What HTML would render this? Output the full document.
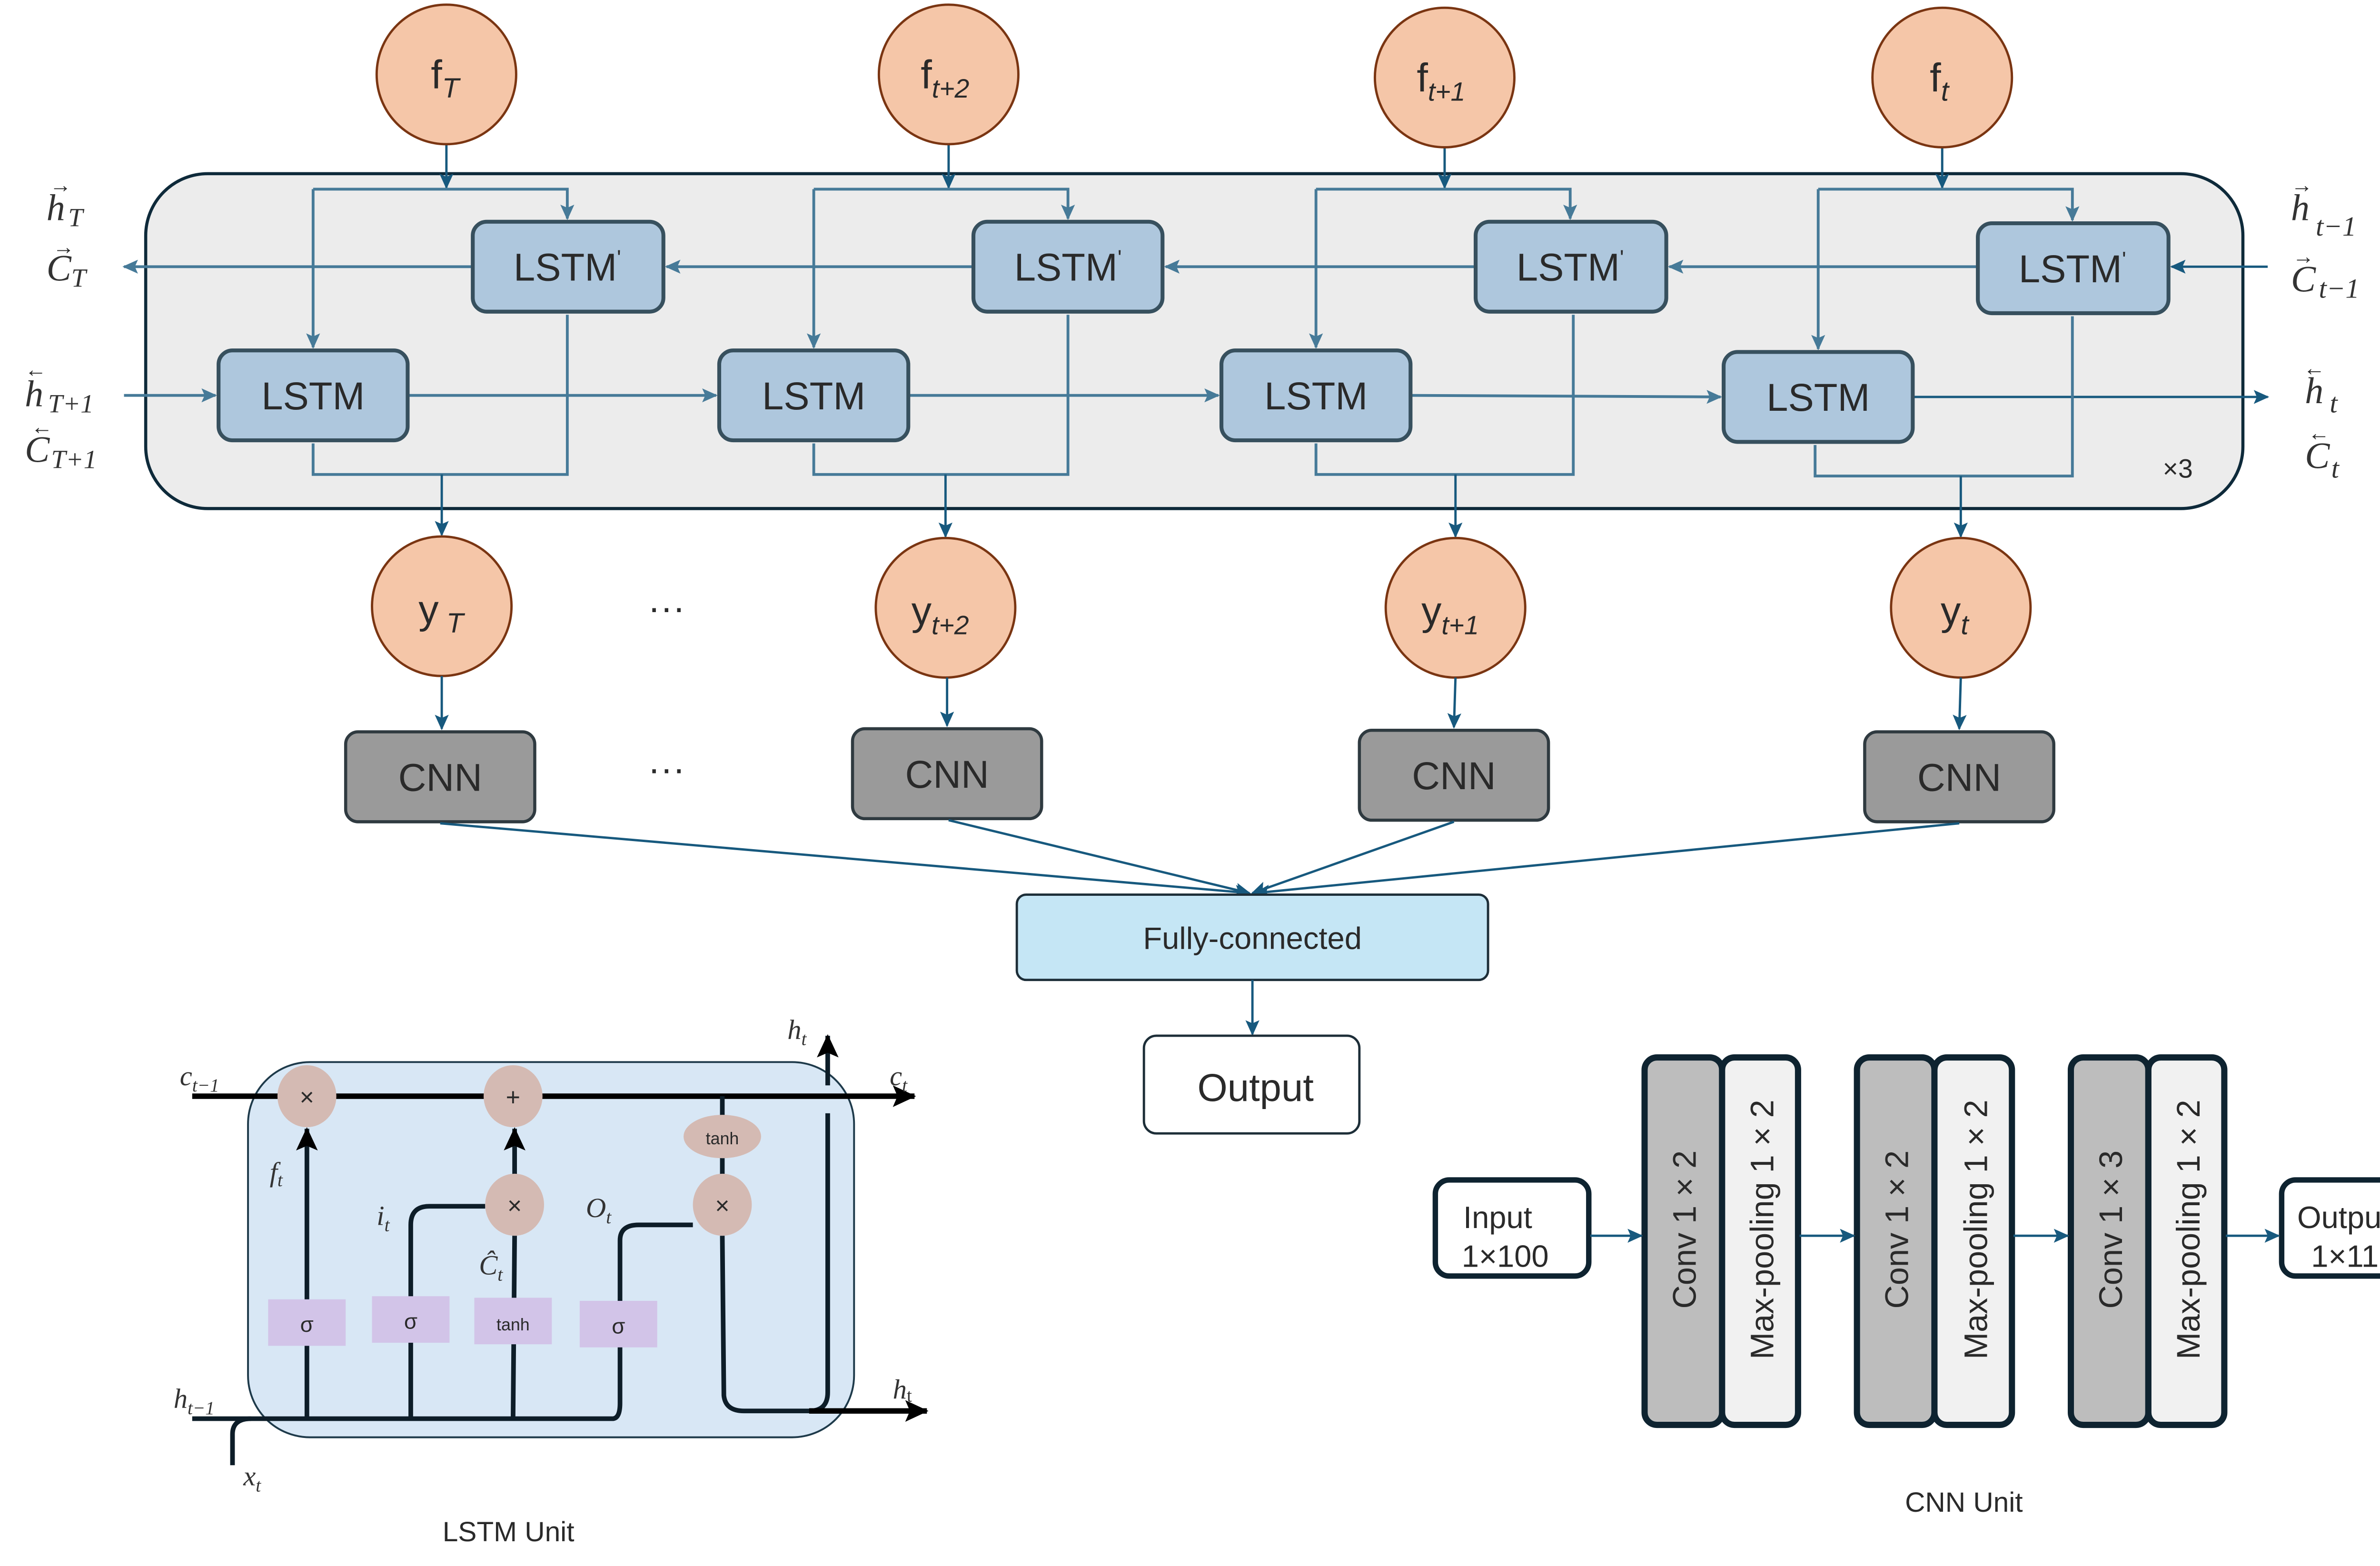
<!DOCTYPE html>
<html><head><meta charset="utf-8"><style>html,body{margin:0;padding:0;background:#fff;width:5106px;height:3290px;overflow:hidden}svg{display:block;position:absolute;left:0;top:0;width:5106px;height:3290px}</style></head>
<body>
<svg width="5106" height="3290" viewBox="0 0 1568 1010" preserveAspectRatio="none" xmlns="http://www.w3.org/2000/svg">
<defs>
<marker id="a" markerUnits="userSpaceOnUse" markerWidth="10" markerHeight="10" refX="9" refY="5" orient="auto"><path d="M0,0.5 L10,5 L0,9.5 L2,5 Z" fill="#467a98"/></marker>
<marker id="ad" markerUnits="userSpaceOnUse" markerWidth="10" markerHeight="10" refX="9" refY="5" orient="auto"><path d="M0,0.5 L10,5 L0,9.5 L2,5 Z" fill="#17597e"/></marker>
<marker id="ak" markerUnits="userSpaceOnUse" markerWidth="16" markerHeight="14" refX="14" refY="7" orient="auto"><path d="M0,0 L15,7 L0,14 L3,7 Z" fill="#000"/></marker>
</defs>
<style>
.c{fill:#f5c6a8;stroke:#7a3512;stroke-width:1.5}
.lb{fill:#aec7dd;stroke:#37505e;stroke-width:2.5}
.w{stroke:#467a98;stroke-width:1.8;fill:none}
.d{stroke:#17597e;stroke-width:1.5;fill:none}
.t{font-family:"Liberation Sans",sans-serif;fill:#2a2a2a}
.m{font-family:"Liberation Serif",serif;font-style:italic;fill:#333}
.k{stroke:#0d1d28;stroke-width:3;fill:none}
</style>

<rect x="94" y="112" width="1353" height="216" rx="40" fill="#ececec" stroke="#0e2a3a" stroke-width="2"/>
<text x="1405" y="308" class="t" font-size="17" text-anchor="middle">×3</text>

<text x="30" y="142" class="m" font-size="24">h</text><text x="44" y="146" class="m" font-size="17" font-style="normal">T</text>
<text x="32" y="124" class="t" font-size="14">→</text>
<text x="30" y="181" class="m" font-size="24">C</text><text x="46" y="185" class="m" font-size="17">T</text>
<text x="34" y="164" class="t" font-size="14">→</text>
<text x="16" y="262" class="m" font-size="24">h</text><text x="31" y="266" class="m" font-size="17">T+1</text>
<text x="16" y="243" class="t" font-size="14">←</text>
<text x="16" y="298" class="m" font-size="24">C</text><text x="33" y="302" class="m" font-size="17">T+1</text>
<text x="20" y="280" class="t" font-size="14">←</text>
<text x="1478" y="142" class="m" font-size="24">h</text><text x="1494" y="152" class="m" font-size="18" font-style="normal">t−1</text>
<text x="1478" y="124" class="t" font-size="14">→</text>
<text x="1478" y="188" class="m" font-size="24">C</text><text x="1496" y="192" class="m" font-size="18">t−1</text>
<text x="1479" y="170" class="t" font-size="14">→</text>
<text x="1487" y="260" class="m" font-size="24">h</text><text x="1503" y="266" class="m" font-size="18">t</text>
<text x="1486" y="242" class="t" font-size="14">←</text>
<text x="1487" y="302" class="m" font-size="24">C</text><text x="1504" y="308" class="m" font-size="18">t</text>
<text x="1489" y="284" class="t" font-size="14">←</text>

<line x1="1463" y1="172" x2="1401" y2="172" class="d" marker-end="url(#ad)"/>
<line x1="1276" y1="172" x2="1077" y2="172" class="w" marker-end="url(#a)"/>
<line x1="952" y1="172" x2="752" y2="172" class="w" marker-end="url(#a)"/>
<line x1="628" y1="172" x2="430" y2="172" class="w" marker-end="url(#a)"/>
<line x1="305" y1="172" x2="80" y2="172" class="w" marker-end="url(#a)"/>
<line x1="80" y1="255" x2="139" y2="255" class="w" marker-end="url(#a)"/>
<line x1="263" y1="255" x2="462" y2="255" class="w" marker-end="url(#a)"/>
<line x1="586" y1="255" x2="786" y2="255" class="w" marker-end="url(#a)"/>
<line x1="910" y1="255" x2="1110" y2="256" class="w" marker-end="url(#a)"/>
<line x1="1234" y1="256" x2="1463" y2="256" class="d" marker-end="url(#ad)"/>

<line x1="288" y1="93" x2="288" y2="121" class="d" marker-end="url(#ad)"/>
<polyline points="202,122 366,122 366,141" class="w" marker-end="url(#a)"/>
<line x1="202" y1="122" x2="202" y2="224" class="w" marker-end="url(#a)"/>
<polyline points="202,286 202,306 366,306 366,203" class="w"/>
<line x1="285" y1="306" x2="285" y2="345" class="d" marker-end="url(#ad)"/>
<line x1="612" y1="93" x2="612" y2="121" class="d" marker-end="url(#ad)"/>
<polyline points="525,122 689,122 689,141" class="w" marker-end="url(#a)"/>
<line x1="525" y1="122" x2="525" y2="224" class="w" marker-end="url(#a)"/>
<polyline points="525,286 525,306 689,306 689,203" class="w"/>
<line x1="610" y1="306" x2="610" y2="346" class="d" marker-end="url(#ad)"/>
<line x1="932" y1="95" x2="932" y2="121" class="d" marker-end="url(#ad)"/>
<polyline points="849,122 1013,122 1013,141" class="w" marker-end="url(#a)"/>
<line x1="849" y1="122" x2="849" y2="224" class="w" marker-end="url(#a)"/>
<polyline points="849,286 849,306 1015,306 1015,203" class="w"/>
<line x1="939" y1="306" x2="939" y2="346" class="d" marker-end="url(#ad)"/>
<line x1="1253" y1="95" x2="1253" y2="121" class="d" marker-end="url(#ad)"/>
<polyline points="1173,122 1337,122 1337,142" class="w" marker-end="url(#a)"/>
<line x1="1173" y1="122" x2="1173" y2="225" class="w" marker-end="url(#a)"/>
<polyline points="1171,287 1171,307 1337,307 1337,204" class="w"/>
<line x1="1265" y1="307" x2="1265" y2="346" class="d" marker-end="url(#ad)"/>

<rect x="305" y="143" width="123" height="58" rx="9" class="lb"/>
<rect x="628" y="143" width="122" height="58" rx="9" class="lb"/>
<rect x="952" y="143" width="123" height="58" rx="9" class="lb"/>
<rect x="1276" y="144" width="123" height="58" rx="9" class="lb"/>
<rect x="141" y="226" width="122" height="58" rx="9" class="lb"/>
<rect x="464" y="226" width="122" height="58" rx="9" class="lb"/>
<rect x="788" y="226" width="122" height="58" rx="9" class="lb"/>
<rect x="1112" y="227" width="122" height="58" rx="9" class="lb"/>
<g class="t" font-size="25" text-anchor="middle">
<text x="366" y="181">LSTM<tspan font-size="14" dy="-10">'</tspan></text>
<text x="689" y="181">LSTM<tspan font-size="14" dy="-10">'</tspan></text>
<text x="1013" y="181">LSTM<tspan font-size="14" dy="-10">'</tspan></text>
<text x="1337" y="182">LSTM<tspan font-size="14" dy="-10">'</tspan></text>
<text x="202" y="264">LSTM</text>
<text x="525" y="264">LSTM</text>
<text x="849" y="264">LSTM</text>
<text x="1173" y="265">LSTM</text>
</g>

<circle cx="288" cy="48" r="45" class="c"/>
<circle cx="612" cy="48" r="45" class="c"/>
<circle cx="932" cy="50" r="45" class="c"/>
<circle cx="1253" cy="50" r="45" class="c"/>
<g class="t" font-size="26" fill="#222">
<text x="278" y="57">f<tspan font-size="18" dy="6" font-style="italic">T</tspan></text>
<text x="594" y="57">f<tspan font-size="17" dy="6" font-style="italic">t+2</tspan></text>
<text x="914" y="59">f<tspan font-size="17" dy="6" font-style="italic">t+1</tspan></text>
<text x="1245" y="59">f<tspan font-size="18" dy="6" font-style="italic">t</tspan></text>
</g>
<circle cx="285" cy="391" r="45" class="c"/>
<circle cx="610" cy="392" r="45" class="c"/>
<circle cx="939" cy="392" r="45" class="c"/>
<circle cx="1265" cy="392" r="45" class="c"/>
<g class="t" font-size="26" fill="#222">
<text x="270" y="402">y<tspan font-size="18" dy="6" font-style="italic"> T</tspan></text>
<text x="588" y="403">y<tspan font-size="17" dy="6" font-style="italic">t+2</tspan></text>
<text x="917" y="403">y<tspan font-size="17" dy="6" font-style="italic">t+1</tspan></text>
<text x="1252" y="403">y<tspan font-size="18" dy="6" font-style="italic">t</tspan></text>
</g>
<text x="430" y="400" class="t" font-size="24" text-anchor="middle" fill="#111">···</text>
<text x="430" y="504" class="t" font-size="24" text-anchor="middle" fill="#111">···</text>

<line x1="285" y1="436" x2="285" y2="470" class="d" marker-end="url(#ad)"/>
<line x1="611" y1="437" x2="611" y2="468" class="d" marker-end="url(#ad)"/>
<line x1="939" y1="437" x2="938" y2="469" class="d" marker-end="url(#ad)"/>
<line x1="1265" y1="437" x2="1264" y2="470" class="d" marker-end="url(#ad)"/>

<g fill="#9a9a9a" stroke="#2f3a40" stroke-width="2">
<rect x="223" y="472" width="122" height="58" rx="8"/>
<rect x="550" y="470" width="122" height="58" rx="8"/>
<rect x="877" y="471" width="122" height="58" rx="8"/>
<rect x="1203" y="472" width="122" height="58" rx="8"/>
</g>
<g class="t" font-size="25" text-anchor="middle" fill="#111">
<text x="284" y="510">CNN</text><text x="611" y="508">CNN</text><text x="938" y="509">CNN</text><text x="1264" y="510">CNN</text>
</g>
<line x1="284" y1="531" x2="806" y2="576" class="d" marker-end="url(#ad)"/>
<line x1="612" y1="529" x2="806" y2="576" class="d" marker-end="url(#ad)"/>
<line x1="938" y1="530" x2="808" y2="576" class="d" marker-end="url(#ad)"/>
<line x1="1264" y1="531" x2="810" y2="576" class="d" marker-end="url(#ad)"/>
<rect x="656" y="577" width="304" height="55" rx="6" fill="#c5e6f5" stroke="#1d2e38" stroke-width="1.5"/>
<text x="808" y="612" class="t" font-size="20" text-anchor="middle" fill="#111">Fully-connected</text>
<line x1="808" y1="632" x2="808" y2="667" class="d" marker-end="url(#ad)"/>
<rect x="738" y="668" width="139" height="63" rx="8" fill="#fff" stroke="#1d2e38" stroke-width="1.5"/>
<text x="810" y="710" class="t" font-size="25" text-anchor="middle" fill="#111">Output</text>

<rect x="160" y="685" width="391" height="242" rx="40" fill="#d8e7f5" stroke="#1e3a4a" stroke-width="1.2"/>
<line x1="124" y1="707" x2="590" y2="707" stroke="#000" stroke-width="3.5" marker-end="url(#ak)"/>
<path d="M124,915 L395,915 Q400,915 400,905 L400,800 Q400,790 412,790 L447,790" class="k"/>
<path d="M150,945 L150,925 Q150,915 162,915" class="k"/>
<path d="M265,915 L265,790 Q265,778 277,778 L313,778" class="k"/>
<line x1="198" y1="915" x2="198" y2="728" class="k" marker-end="url(#ak)"/>
<line x1="331" y1="915" x2="332" y2="797" class="k"/>
<line x1="332" y1="758" x2="332" y2="728" class="k" marker-end="url(#ak)"/>
<line x1="466" y1="707" x2="466" y2="760" class="k"/>
<path d="M466,797 L467,900 Q468,910 480,910 L522,910 Q534,910 534,898 L534,718" class="k"/>
<line x1="534" y1="700" x2="534" y2="668" class="k" marker-end="url(#ak)"/>
<line x1="522" y1="910" x2="598" y2="910" stroke="#000" stroke-width="3.5" marker-end="url(#ak)"/>
<g fill="#d4bab3">
<ellipse cx="198" cy="707" rx="19" ry="20"/><ellipse cx="331" cy="707" rx="19" ry="20"/>
<ellipse cx="332" cy="777" rx="19" ry="20"/><ellipse cx="466" cy="777" rx="19" ry="20"/>
<ellipse cx="466" cy="733" rx="25" ry="14"/>
</g>
<g class="t" font-size="16" text-anchor="middle" fill="#111">
<text x="198" y="713">×</text><text x="331" y="713">+</text><text x="332" y="783">×</text><text x="466" y="783">×</text>
</g>
<text x="466" y="738" class="t" font-size="11" text-anchor="middle" fill="#3a5a70">tanh</text>
<g fill="#d2c4e8">
<rect x="173" y="838" width="50" height="30"/><rect x="240" y="836" width="50" height="30"/>
<rect x="306" y="837" width="50" height="30"/><rect x="374" y="839" width="50" height="30"/>
</g>
<g class="t" font-size="14" text-anchor="middle" fill="#3a4a5a">
<text x="198" y="859">σ</text><text x="265" y="857">σ</text><text x="331" y="858" font-size="11">tanh</text><text x="399" y="860">σ</text>
</g>
<g class="m" fill="#111">
<text x="116" y="700" font-size="18">c<tspan font-size="12" dy="4">t−1</tspan></text>
<text x="574" y="700" font-size="18">c<tspan font-size="12" dy="4">t</tspan></text>
<text x="508" y="670" font-size="18">h<tspan font-size="12" dy="4">t</tspan></text>
<text x="112" y="908" font-size="18">h<tspan font-size="12" dy="4">t−1</tspan></text>
<text x="576" y="902" font-size="18">h<tspan font-size="12" dy="2" font-style="normal">t</tspan></text>
<text x="157" y="958" font-size="18">x<tspan font-size="12" dy="4">t</tspan></text>
<text x="174" y="762" font-size="18">f<tspan font-size="12" dy="3">t</tspan></text>
<text x="243" y="790" font-size="18">i<tspan font-size="12" dy="4">t</tspan></text>
<text x="309" y="822" font-size="18">Ĉ<tspan font-size="12" dy="4">t</tspan></text>
<text x="378" y="785" font-size="18">O<tspan font-size="12" dy="4">t</tspan></text>
</g>
<text x="328" y="994" class="t" font-size="18" text-anchor="middle" fill="#111">LSTM Unit</text>

<rect x="926" y="761" width="99" height="62" rx="9" fill="#fff" stroke="#0e2330" stroke-width="3.5"/>
<text x="944" y="792" class="t" font-size="20" fill="#111">Input</text>
<text x="943" y="817" class="t" font-size="20" fill="#111">1×100</text>
<rect x="1472" y="761" width="81" height="62" rx="9" fill="#fff" stroke="#0e2330" stroke-width="3.5"/>
<text x="1482" y="792" class="t" font-size="20" fill="#111">Output</text>
<text x="1491" y="817" class="t" font-size="20" fill="#111">1×11</text>
<g stroke="#0e2330" stroke-width="4">
<rect x="1061" y="682" width="50" height="237" rx="8" fill="#bdbdbd"/>
<rect x="1111" y="682" width="49" height="237" rx="8" fill="#f1f1f1"/>
<rect x="1198" y="682" width="50" height="237" rx="8" fill="#bdbdbd"/>
<rect x="1248" y="682" width="50" height="237" rx="8" fill="#f1f1f1"/>
<rect x="1336" y="682" width="50" height="237" rx="8" fill="#bdbdbd"/>
<rect x="1386" y="682" width="49" height="237" rx="8" fill="#f1f1f1"/>
</g>
<g class="t" font-size="21" fill="#111" text-anchor="middle">
<text transform="translate(1094,793) rotate(-90)">Conv 1 × 2</text>
<text transform="translate(1144,793) rotate(-90)">Max-pooling 1 × 2</text>
<text transform="translate(1231,793) rotate(-90)">Conv 1 × 2</text>
<text transform="translate(1282,793) rotate(-90)">Max-pooling 1 × 2</text>
<text transform="translate(1369,793) rotate(-90)">Conv 1 × 3</text>
<text transform="translate(1419,793) rotate(-90)">Max-pooling 1 × 2</text>
</g>
<line x1="1026" y1="797" x2="1059" y2="797" class="d" marker-end="url(#ad)"/>
<line x1="1161" y1="797" x2="1196" y2="797" class="d" marker-end="url(#ad)"/>
<line x1="1299" y1="797" x2="1334" y2="797" class="d" marker-end="url(#ad)"/>
<line x1="1436" y1="797" x2="1470" y2="797" class="d" marker-end="url(#ad)"/>
<text x="1267" y="975" class="t" font-size="18" text-anchor="middle" fill="#111">CNN Unit</text>
</svg>
</body></html>
